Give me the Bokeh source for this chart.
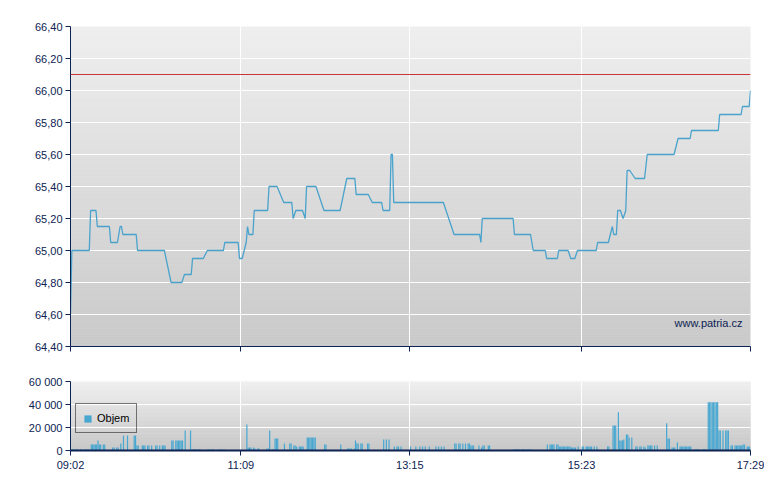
import numpy as np
from bokeh.plotting import figure
from bokeh.models import (ColumnDataSource, Range1d, FixedTicker, Span, Label,
                          Legend, LegendItem, CustomJSTickFormatter)
from bokeh.layouts import column
from bokeh.embed import file_html
from bokeh.resources import INLINE

# ---------------- data ----------------
price_times = ["09:02", "09:03", "09:16", "09:17", "09:21", "09:22", "09:31", "09:32", "09:37", "09:39",
               "09:40", "09:41", "09:51", "09:52", "10:12", "10:17", "10:25", "10:27", "10:32", "10:33",
               "10:41", "10:44", "10:56", "10:57", "11:07", "11:08", "11:10", "11:13", "11:14", "11:15",
               "11:18", "11:19", "11:29", "11:30", "11:36", "11:41", "11:47", "11:48", "11:50", "11:55",
               "11:57", "11:58", "12:05", "12:11", "12:23", "12:28", "12:34", "12:35", "12:44", "12:47",
               "12:54", "12:55", "13:00", "13:01", "13:02", "13:03", "13:40", "13:48", "14:07", "14:08",
               "14:09", "14:32", "14:33", "14:45", "14:47", "14:56", "14:57", "15:05", "15:06", "15:13",
               "15:15", "15:18", "15:20", "15:34", "15:35", "15:43", "15:46", "15:47", "15:49", "15:50",
               "15:52", "15:54", "15:56", "15:57", "15:59", "16:03", "16:10", "16:12", "16:32", "16:35",
               "16:44", "16:45", "17:05", "17:06", "17:22", "17:23", "17:28", "17:29"]
price_values = [64.60, 65.00, 65.00, 65.25, 65.25, 65.15, 65.15, 65.05, 65.05, 65.15,
                65.15, 65.10, 65.10, 65.00, 65.00, 64.80, 64.80, 64.85, 64.85, 64.95,
                64.95, 65.00, 65.00, 65.05, 65.05, 64.95, 64.95, 65.05, 65.15, 65.10,
                65.10, 65.25, 65.25, 65.40, 65.40, 65.30, 65.30, 65.20, 65.25, 65.25,
                65.20, 65.40, 65.40, 65.25, 65.25, 65.45, 65.45, 65.35, 65.35, 65.30,
                65.30, 65.25, 65.25, 65.60, 65.60, 65.30, 65.30, 65.10, 65.10, 65.05,
                65.20, 65.20, 65.10, 65.10, 65.00, 65.00, 64.95, 64.95, 65.00, 65.00,
                64.95, 64.95, 65.00, 65.00, 65.05, 65.05, 65.15, 65.10, 65.10, 65.25,
                65.25, 65.20, 65.25, 65.50, 65.50, 65.45, 65.45, 65.60, 65.60, 65.70,
                65.70, 65.75, 65.75, 65.85, 65.85, 65.90, 65.90, 66.00]

prev_close = 66.10

vol_times = ["09:02", "09:03", "09:04", "09:05", "09:06", "09:07", "09:09", "09:10", "09:12", "09:13",
             "09:14", "09:15", "09:17", "09:18", "09:19", "09:20", "09:21", "09:22", "09:23", "09:24",
             "09:26", "09:27", "09:33", "09:34", "09:36", "09:37", "09:39", "09:41", "09:44", "09:49",
             "09:50", "09:51", "09:52", "09:55", "09:56", "09:57", "09:59", "10:00", "10:02", "10:05",
             "10:06", "10:08", "10:10", "10:11", "10:12", "10:17", "10:18", "10:20", "10:21", "10:22",
             "10:23", "10:24", "10:25", "10:27", "10:31", "10:33", "10:34", "10:35", "10:37", "10:38",
             "10:44", "10:45", "10:47", "10:48", "10:52", "10:54", "10:56", "11:13", "11:14", "11:15",
             "11:16", "11:18", "11:19", "11:21", "11:22", "11:28", "11:29", "11:30", "11:32", "11:33",
             "11:34", "11:35", "11:36", "11:41", "11:45", "11:46", "11:48", "11:49", "11:50", "11:52",
             "11:53", "11:54", "11:55", "11:57", "11:58", "11:59", "12:00", "12:01", "12:02", "12:03",
             "12:04", "12:11", "12:12", "12:23", "12:28", "12:29", "12:30", "12:31", "12:33", "12:34",
             "12:35", "12:36", "12:38", "12:39", "12:43", "12:44", "12:55", "12:57", "12:59", "13:03",
             "13:05", "13:06", "13:08", "13:15", "13:19", "13:22", "13:24", "13:26", "13:29", "13:34",
             "13:36", "13:38", "13:40", "13:48", "13:49", "13:51", "13:52", "13:54", "13:56", "13:58",
             "13:59", "14:00", "14:01", "14:02", "14:06", "14:08", "14:09", "14:10", "14:13", "14:14",
             "14:32", "14:33", "14:34", "14:35", "14:36", "14:38", "14:39", "14:40", "14:42", "14:43",
             "14:45", "14:57", "14:59", "15:00", "15:01", "15:02", "15:04", "15:05", "15:06", "15:07",
             "15:08", "15:09", "15:10", "15:11", "15:12", "15:13", "15:14", "15:15", "15:16", "15:17",
             "15:18", "15:20", "15:23", "15:24", "15:26", "15:27", "15:28", "15:29", "15:30", "15:32",
             "15:34", "15:35", "15:42", "15:43", "15:46", "15:47", "15:48", "15:50", "15:51", "15:52",
             "15:53", "15:54", "15:56", "15:57", "15:58", "16:00", "16:03", "16:04", "16:06", "16:07",
             "16:09", "16:10", "16:12", "16:13", "16:14", "16:15", "16:17", "16:19", "16:26", "16:27",
             "16:28", "16:30", "16:31", "16:32", "16:34", "16:36", "16:37", "16:38", "16:39", "16:40",
             "16:41", "16:42", "16:43", "16:44", "16:47", "16:48", "16:49", "16:50", "16:53", "16:54",
             "16:55", "16:57", "16:58", "16:59", "17:00", "17:01", "17:02", "17:03", "17:04", "17:05",
             "17:06", "17:08", "17:10", "17:11", "17:12", "17:14", "17:15", "17:17", "17:18", "17:19",
             "17:20", "17:21", "17:22", "17:23", "17:24", "17:26", "17:27", "17:28"]
vol_values = [1000, 1000, 1000, 1000, 1000, 1000, 1000, 1000, 1000, 1000,
              1000, 1000, 5200, 5200, 5200, 5200, 5200, 8700, 5200, 5200,
              5200, 5200, 2600, 2600, 2600, 2600, 6100, 13000, 13000, 13000,
              13000, 4400, 4400, 4400, 4400, 4400, 4400, 4400, 4400, 4400,
              4400, 4400, 4400, 4400, 4400, 8700, 8700, 8700, 8700, 8700,
              8700, 8700, 8700, 17500, 17500, 1000, 1000, 1000, 1000, 1000,
              1000, 1000, 1000, 1000, 1000, 1000, 1000, 22700, 2600, 2600,
              2600, 2600, 1700, 1700, 1700, 1700, 1700, 17500, 1000, 1000,
              10500, 10500, 10500, 6100, 6100, 6100, 4400, 4400, 3500, 3500,
              3500, 3500, 3500, 1000, 11300, 11300, 11300, 11300, 11300, 11300,
              11300, 5200, 5200, 5200, 1700, 1700, 1700, 1700, 1700, 8700,
              6100, 6100, 6100, 6100, 6100, 6100, 9600, 9600, 9600, 3500,
              3500, 3500, 3500, 3500, 3500, 3500, 3500, 3500, 3500, 3500,
              3500, 3500, 3500, 6100, 6100, 6100, 6100, 6100, 6100, 6100,
              6100, 4400, 4400, 4400, 4400, 2600, 4400, 4400, 4400, 4400,
              1000, 1000, 1000, 1000, 1000, 1000, 1000, 1000, 1000, 1000,
              1000, 5200, 5200, 5200, 5200, 5200, 5200, 5200, 3500, 3500,
              3500, 3500, 3500, 3500, 3500, 3500, 3500, 2600, 2600, 2600,
              2600, 3500, 3500, 3500, 3500, 3500, 3500, 3500, 3500, 3500,
              3500, 1000, 3500, 3500, 21800, 21800, 21800, 33200, 8700, 8700,
              8700, 9600, 14000, 14000, 11300, 11300, 3500, 3500, 3500, 3500,
              3500, 2600, 4400, 4400, 4400, 4400, 4400, 4400, 23600, 10500,
              10500, 2600, 2600, 2600, 7000, 3500, 3500, 3500, 3500, 3500,
              3500, 3500, 3500, 3500, 1000, 1000, 1000, 1000, 1000, 1000,
              1000, 42000, 42000, 42000, 42000, 42000, 42000, 42000, 42000, 17500,
              17500, 17500, 17500, 17500, 17500, 4400, 4400, 4400, 4400, 4400,
              4400, 4400, 4400, 5200, 5200, 3500, 3500, 3500]

time_ticks = ["09:02", "11:09", "13:15", "15:23", "17:29"]
price_ticks = [64.40, 64.60, 64.80, 65.00, 65.20, 65.40, 65.60, 65.80, 66.00, 66.20, 66.40]
price_tick_labels = ["64,40", "64,60", "64,80", "65,00", "65,20", "65,40", "65,60", "65,80", "66,00", "66,20", "66,40"]
vol_ticks = [0, 20000, 40000, 60000]
vol_tick_labels = ["0", "20 000", "40 000", "60 000"]
legend_label = "Objem"
watermark = "www.patria.cz"

# ---------------- helpers ----------------
def to_min(s):
    h, m = s.split(":")
    return int(h) * 60 + int(m)

NAVY = "#0d2352"
LINE = "#4aa3cc"
BAR = "#48a7d1"
FONT = "Liberation Sans"

t_ticks = [to_min(t) for t in time_ticks]
x0, x1 = t_ticks[0], t_ticks[-1]


def gradient(fig, y0, y1, top_v, bot_v, n=160):
    edges = np.linspace(y0, y1, n + 1)
    cols = []
    for i in range(n):
        f = (i + 0.5) / n
        val = int(round(bot_v + (top_v - bot_v) * f))
        cols.append("#%02x%02x%02x" % (val, val, val))
    fig.quad(left=x0, right=x1, bottom=edges[:-1], top=edges[1:],
             fill_color=cols, line_color=cols, line_width=0.5, level="image")


def style_axes(fig):
    for ax in fig.axis:
        ax.axis_line_color = NAVY
        ax.major_tick_line_color = NAVY
        ax.major_tick_out = 5
        ax.major_tick_in = 0
        ax.minor_tick_line_color = None
        ax.major_label_text_color = NAVY
        ax.major_label_text_font = FONT
        ax.major_label_text_font_size = "11px"
        ax.major_label_standoff = 3
    fig.grid.grid_line_color = "white"
    fig.grid.grid_line_width = 1
    fig.outline_line_color = None


# ---------------- price chart ----------------
p = figure(frame_width=680, frame_height=320, output_backend="svg", toolbar_location=None,
           x_range=Range1d(x0, x1), y_range=Range1d(price_ticks[0], price_ticks[-1]),
           min_border_left=70, min_border_right=14, min_border_top=26, min_border_bottom=10)
gradient(p, price_ticks[0], price_ticks[-1], 238, 200)

psrc = ColumnDataSource(dict(x=[to_min(t) for t in price_times], y=price_values))
p.line("x", "y", source=psrc, line_color=LINE, line_width=1.3)
p.add_layout(Span(location=prev_close, dimension="width", line_color="#c8353a", line_width=1))

p.yaxis.ticker = FixedTicker(ticks=price_ticks)
p.yaxis.major_label_overrides = dict(zip(price_ticks, price_tick_labels))
p.xaxis.ticker = FixedTicker(ticks=t_ticks)
p.xaxis.formatter = CustomJSTickFormatter(code="return ''")
p.xgrid.ticker = FixedTicker(ticks=t_ticks)
p.ygrid.ticker = FixedTicker(ticks=price_ticks)
style_axes(p)

p.add_layout(Label(x=x1 - 6, y=64.545, text=watermark, text_align="right", text_baseline="middle",
                   text_font=FONT, text_font_size="11px", text_color=NAVY))

# ---------------- volume chart ----------------
v = figure(frame_width=680, frame_height=69, output_backend="svg", toolbar_location=None,
           x_range=Range1d(x0, x1), y_range=Range1d(vol_ticks[0], vol_ticks[-1]),
           min_border_left=70, min_border_right=14, min_border_top=25, min_border_bottom=30)
gradient(v, vol_ticks[0], vol_ticks[-1], 240, 200)

vsrc = ColumnDataSource(dict(x=[to_min(t) + 0.5 for t in vol_times], top=vol_values))
bars = v.vbar(x="x", top="top", width=0.9, source=vsrc, fill_color=BAR, line_color=None)

v.yaxis.ticker = FixedTicker(ticks=vol_ticks)
v.yaxis.major_label_overrides = dict(zip(vol_ticks, vol_tick_labels))
v.xaxis.ticker = FixedTicker(ticks=t_ticks)
v.xaxis.major_label_overrides = dict(zip(t_ticks, time_ticks))
v.xgrid.ticker = FixedTicker(ticks=t_ticks)
v.ygrid.ticker = FixedTicker(ticks=vol_ticks)
style_axes(v)
v.xaxis.axis_line_width = 2

legend = Legend(items=[LegendItem(label=legend_label, renderers=[bars])],
                location=(5, 17), border_line_color="black", border_line_width=1,
                background_fill_alpha=0, padding=7, glyph_width=9, glyph_height=9,
                label_height=14, label_standoff=5, spacing=0, margin=0,
                label_text_font=FONT, label_text_font_size="11px", label_text_color="black")
v.add_layout(legend)

layout = column(p, v, spacing=0)
open("out.html", "w").write(file_html(layout, INLINE))
